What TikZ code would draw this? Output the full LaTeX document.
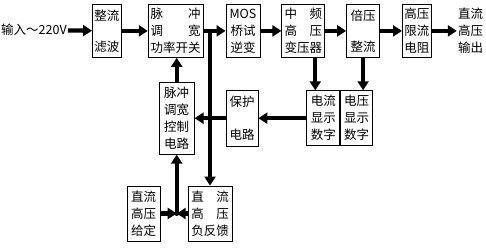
\documentclass[tikz,border=0pt]{standalone}
\usepackage{fontspec}
\newfontfamily\cjk{Noto Sans CJK SC}
\usetikzlibrary{positioning}
\usetikzlibrary{calc}
\usetikzlibrary{arrows.meta}

\tikzset{
    blk/.style={draw, line width=0.8pt, inner sep=0pt, minimum height=53pt, align=center, font=\cjk\fontsize{12.5}{17}\selectfont},
    txt/.style={inner sep=1pt, align=center, font=\cjk\fontsize{12.5}{17}\selectfont},
    flow/.style={line width=4.3pt, -{Triangle[length=9pt,width=11pt]}},
}

\begin{document}
\begin{tikzpicture}[x=1pt, y=-1pt]
    \useasboundingbox (0,0) rectangle (486,251);

    % main chain
    \node[txt, anchor=west] (input) at (0,30) {输入～220V};
    \node[blk, minimum width=29pt, anchor=north west] (filter) at (92,4) {整流\\[14pt]滤波};
    \node[blk, minimum width=55pt, right=26pt of filter] (switch) {脉\hspace{25pt}冲\\调\hspace{25pt}宽\\功率开关};
    \node[blk, minimum width=34pt, right=22pt of switch] (mos) {MOS\\桥试\\逆变};
    \node[blk, minimum width=43pt, right=21pt of mos] (trans) {中\hspace{12.5pt}频\\高\hspace{12.5pt}压\\变压器};
    \node[blk, minimum width=33pt, right=21pt of trans] (dbl) {倍压\\[14pt]整流};
    \node[blk, minimum width=29pt, right=22pt of dbl] (limit) {高压\\限流\\电阻};
    \node[txt, right=25pt of limit] (output) {直流\\高压\\输出};

    % control and display row
    \node[blk, minimum width=35pt, minimum height=72pt, below=24pt of switch, xshift=1pt] (ctrl) {脉冲\\调宽\\控制\\电路};
    \node[blk, minimum width=32pt, minimum height=56pt, right=31pt of ctrl] (prot) {保护\\[16pt]电路};
    \node[blk, minimum width=33pt, minimum height=55pt, right=48pt of prot] (cur) {电流\\显示\\数字};
    \node[blk, minimum width=32pt, minimum height=55pt, right=0pt of cur] (volt) {电压\\显示\\数字};

    % set point and feedback
    \node[blk, minimum width=44pt, minimum height=55pt] (fb) at (210,213.5) {直\hspace{12.5pt}流\\高\hspace{12.5pt}压\\负反馈};
    \node[blk, minimum width=33pt, minimum height=55pt, left=27pt of fb] (set) {直流\\高压\\给定};

    \coordinate (tap) at (switch.east -| fb.north);
    \coordinate (jn) at (ctrl.south |- set.east);

    \draw[flow] (input) -- (filter);
    \draw[flow] (filter) -- (switch);
    \draw[flow] (switch) -- (mos);
    \draw[flow] (mos) -- (trans);
    \draw[flow] (trans) -- (dbl);
    \draw[flow] (dbl) -- (limit);
    \draw[flow] (limit) -- (output);

    \draw[flow] ([xshift=12pt]trans.south) -- ([xshift=12pt]trans.south |- cur.north);
    \draw[flow] (dbl.south) -- (dbl.south |- volt.north);
    \draw[flow] (cur) -- (prot);
    \draw[flow] (prot) -- (ctrl);
    \draw[flow] (tap) -- (fb.north);
    \draw[flow] (ctrl.north) -- (ctrl.north |- switch.south);

    \draw[flow] (set) -- (jn);
    \draw[flow] (fb) -- (jn);
    \draw[flow] (jn) -- (ctrl.south);
    \fill (jn) circle (2.5pt);
\end{tikzpicture}
\end{document}
